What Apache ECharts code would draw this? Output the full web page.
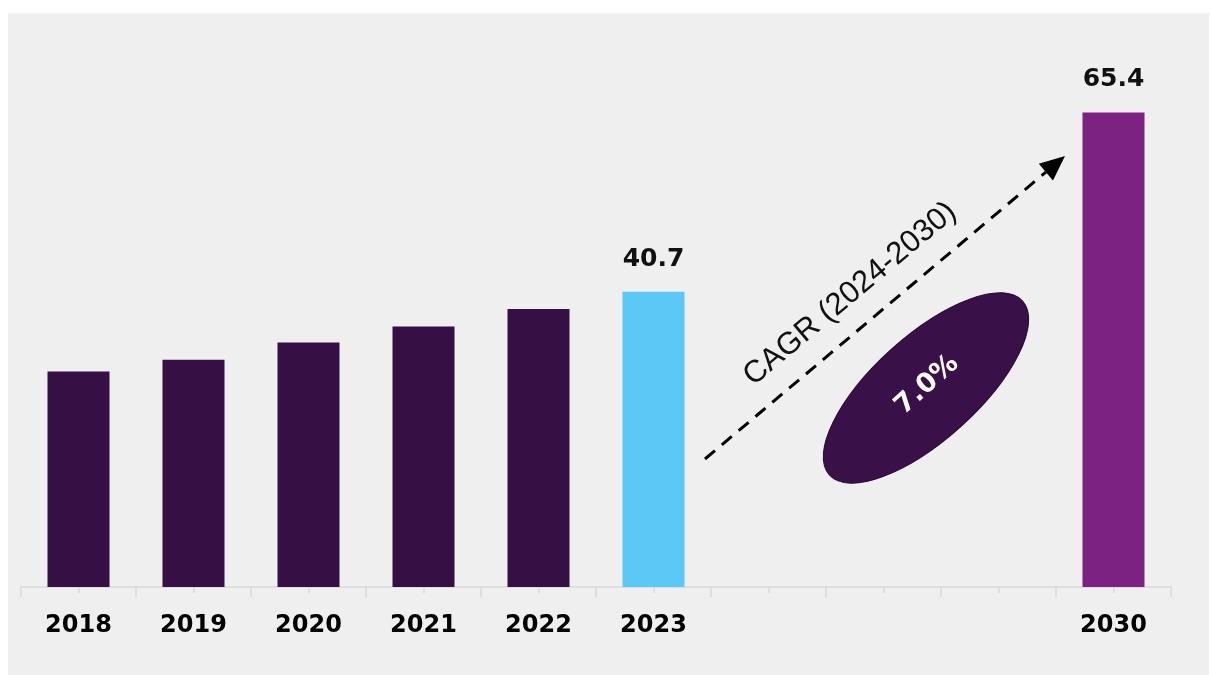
<!DOCTYPE html>
<html>
<head>
<meta charset="utf-8">
<style>
  html, body { margin: 0; padding: 0; background: #ffffff; }
  #chart { width: 1211px; height: 675px; }
</style>
<script src="https://cdn.jsdelivr.net/npm/echarts@6/dist/echarts.min.js"></script>
</head>
<body>
<div id="chart"></div>
<script>
// Market size by year (historic 2018-2023, forecast 2030)
const categories = ['2018', '2019', '2020', '2021', '2022', '2023', '', '', '', '2030'];
const values = [29.7, 31.3, 33.7, 35.9, 38.3, 40.7, null, null, null, 65.4];
const barColors = ['#360f45', '#360f45', '#360f45', '#360f45', '#360f45', '#5bc9f5', null, null, null, '#7b2282'];
const labelledYears = ['2023', '2030'];
const cagrText = 'CAGR (2024-2030)';
const cagrValue = '7.0%';

const chart = echarts.init(document.getElementById('chart'), null, { renderer: 'canvas' });

const barData = values.map((v, i) => ({
  value: v,
  itemStyle: { color: barColors[i] },
  label: { show: labelledYears.includes(categories[i]) }
}));

// Dashed growth arrow geometry
const arrowStart = [705, 459];
const arrowTip = [1065, 156];
const ang = Math.atan2(arrowTip[1] - arrowStart[1], arrowTip[0] - arrowStart[0]);
const headLen = 25, headHalf = 11;
const base = [arrowTip[0] - headLen * Math.cos(ang), arrowTip[1] - headLen * Math.sin(ang)];
const perp = [-Math.sin(ang), Math.cos(ang)];
const headPoints = [
  arrowTip,
  [base[0] + perp[0] * headHalf, base[1] + perp[1] * headHalf],
  [base[0] - perp[0] * headHalf, base[1] - perp[1] * headHalf]
];
const tilt = 40 * Math.PI / 180;
const badgeTilt = 42 * Math.PI / 180;

const option = {
  backgroundColor: '#ffffff',
  animation: false,
  grid: { left: 21, right: 40, top: 79, bottom: 88, containLabel: false },
  xAxis: [
    {
      type: 'category',
      data: categories,
      axisLine: { lineStyle: { color: '#d9d9d9', width: 1.5 } },
      axisTick: { show: true, length: 10, lineStyle: { color: '#d9d9d9', width: 1.5 } },
      axisLabel: {
        color: '#000000',
        fontFamily: 'DejaVu Sans',
        fontWeight: 'bold',
        fontSize: 24,
        margin: 27
      }
    },
    {
      type: 'category',
      data: categories,
      position: 'bottom',
      axisLine: { show: false },
      axisTick: { show: true, alignWithLabel: true, length: 6, lineStyle: { color: '#d9d9d9', width: 1.5 } },
      axisLabel: { show: false }
    }
  ],
  yAxis: {
    type: 'value',
    min: 0,
    max: 70,
    show: false,
    splitLine: { show: false }
  },
  series: [
    {
      type: 'bar',
      xAxisIndex: 0,
      data: barData,
      barWidth: 62,
      label: {
        position: 'top',
        distance: 20,
        color: '#111111',
        fontFamily: 'DejaVu Sans',
        fontWeight: 'bold',
        fontSize: 25
      }
    }
  ],
  graphic: [
    {
      type: 'rect',
      z: -10,
      silent: true,
      shape: { x: 8, y: 13, width: 1201, height: 662 },
      style: { fill: '#efefef' }
    },
    {
      type: 'line',
      z: 10,
      shape: { x1: arrowStart[0], y1: arrowStart[1], x2: base[0], y2: base[1] },
      style: { stroke: '#000000', lineWidth: 3, lineDash: [13, 9] }
    },
    {
      type: 'polygon',
      z: 10,
      shape: { points: headPoints },
      style: { fill: '#000000' }
    },
    {
      type: 'text',
      z: 10,
      x: 850,
      y: 294,
      rotation: tilt,
      style: {
        text: cagrText,
        fill: '#111111',
        font: '31px "Liberation Sans"',
        align: 'center',
        verticalAlign: 'middle'
      }
    },
    {
      type: 'ellipse',
      z: 10,
      x: 926,
      y: 388,
      rotation: badgeTilt,
      shape: { cx: 0, cy: 0, rx: 130, ry: 52 },
      style: { fill: '#3a1048', stroke: '#2a0a35', lineWidth: 1 }
    },
    {
      type: 'text',
      z: 11,
      x: 927,
      y: 385,
      rotation: badgeTilt,
      style: {
        text: cagrValue,
        fill: '#ffffff',
        font: 'bold 27px "DejaVu Sans"',
        align: 'center',
        verticalAlign: 'middle'
      }
    }
  ]
};

chart.setOption(option);
</script>
</body>
</html>
